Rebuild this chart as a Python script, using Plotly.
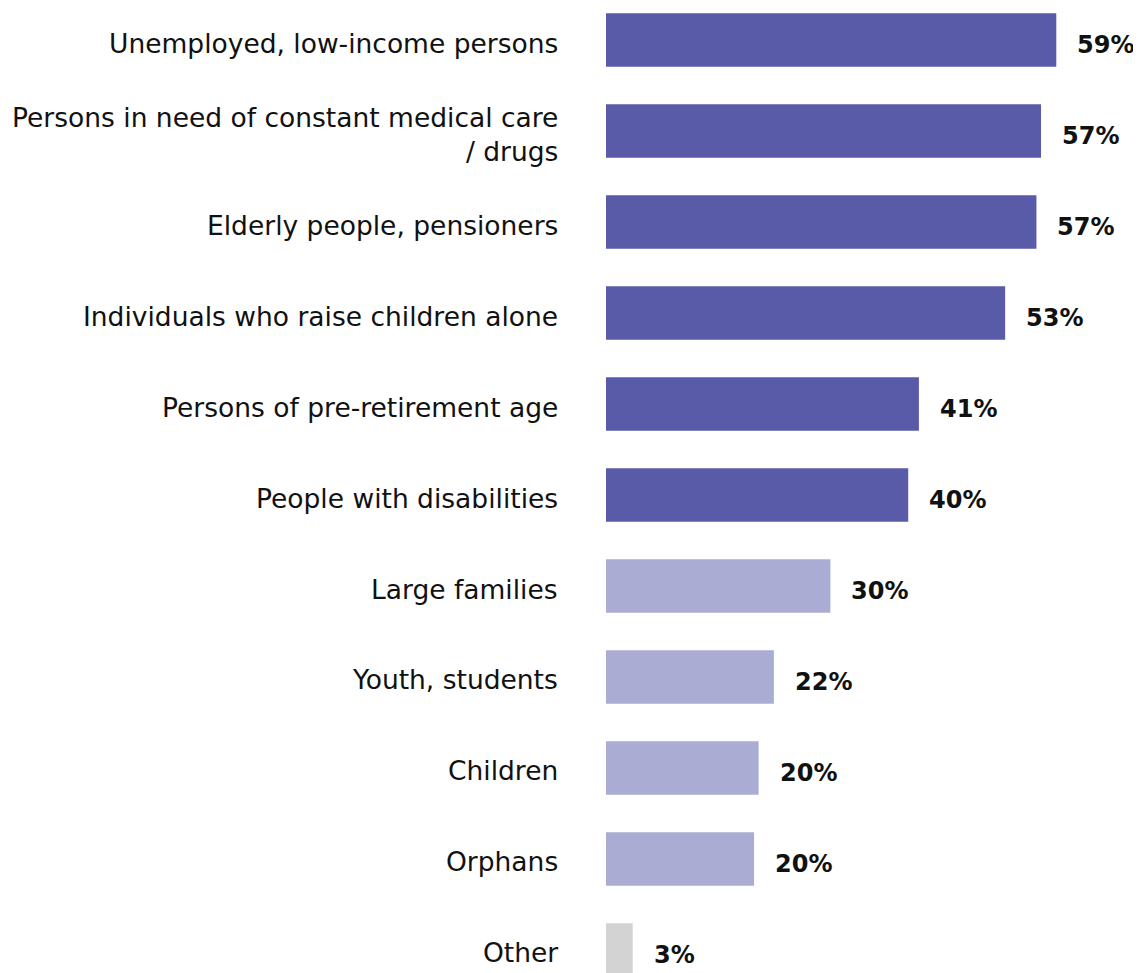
import plotly.graph_objects as go

categories = [
    "Unemployed, low-income persons",
    "Persons in need of constant medical care<br>/ drugs",
    "Elderly people, pensioners",
    "Individuals who raise children alone",
    "Persons of pre-retirement age",
    "People with disabilities",
    "Large families",
    "Youth, students",
    "Children",
    "Orphans",
    "Other",
]
values = [59.0, 57.0, 56.4, 52.3, 41.0, 39.6, 29.4, 22.0, 20.0, 19.4, 3.5]
value_labels = ["59%", "57%", "57%", "53%", "41%", "40%", "30%", "22%", "20%", "20%", "3%"]
groups = ["dark"] * 6 + ["light"] * 4 + ["other"]

color_map = {"dark": "#5a5ba8", "light": "#abacd4", "other": "#d3d3d4"}
colors = [color_map[g] for g in groups]
ypos = list(range(len(categories)))

FONT = "DejaVu Sans"

fig = go.Figure()
fig.add_trace(go.Bar(
    x=values, y=ypos, orientation="h",
    marker=dict(color=colors, line=dict(width=0)),
    width=0.59, hoverinfo="skip",
))

for i, (v, lab, cat) in enumerate(zip(values, value_labels, categories)):
    fig.add_annotation(x=v, y=i, xref="x", yref="y", text=f"<b>{lab}</b>",
                       showarrow=False, xanchor="left", xshift=19, yshift=-5,
                       font=dict(family=FONT, size=24, color="#111111"))
    fig.add_annotation(x=0, y=i, xref="paper", yref="y", text=cat,
                       showarrow=False, xanchor="right", align="right", xshift=-46, yshift=-3,
                       font=dict(family=FONT, size=26.5, color="#111111"))

fig.update_layout(
    width=1133, height=965,
    margin=dict(l=598, r=0, t=0, b=0),
    plot_bgcolor="white", paper_bgcolor="white",
    showlegend=False,
    xaxis=dict(range=[0, 70.1], visible=False, fixedrange=True),
    yaxis=dict(range=[10.253, -0.352], visible=False, fixedrange=True),
)

fig.write_html("out.html")
